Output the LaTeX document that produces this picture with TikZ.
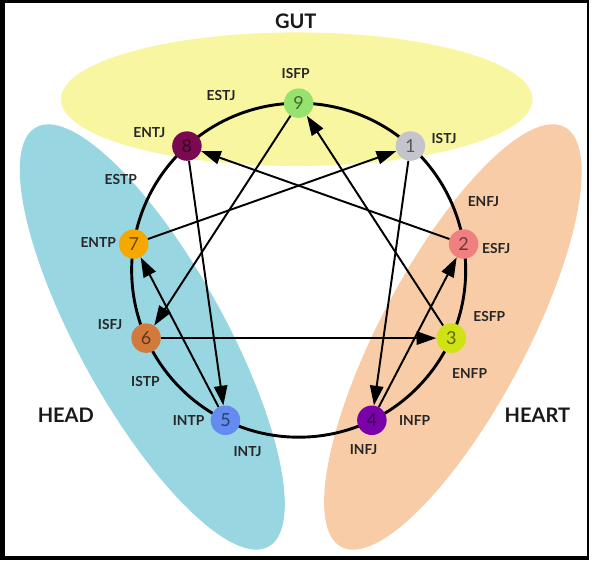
\documentclass[tikz,border=0pt]{standalone}
\usepackage{fontspec}
\setmainfont{Lato}
\usetikzlibrary{arrows.meta,calc}

\definecolor{gutyellow}{RGB}{248,246,160}
\definecolor{headblue}{RGB}{152,214,226}
\definecolor{heartpeach}{RGB}{248,204,166}
\definecolor{cnine}{RGB}{150,226,110}
\definecolor{cone}{RGB}{196,196,204}
\definecolor{ctwo}{RGB}{240,128,128}
\definecolor{cthree}{RGB}{206,226,20}
\definecolor{cfour}{RGB}{122,0,170}
\definecolor{cfive}{RGB}{100,140,240}
\definecolor{csix}{RGB}{210,122,60}
\definecolor{cseven}{RGB}{246,168,0}
\definecolor{ceight}{RGB}{122,10,80}

\tikzset{
  pt/.style={circle, fill=#1, text=#1!45!black, minimum size=0.75cm, inner sep=0pt,
    font=\fontsize{13}{13}\selectfont},
  lbl/.style={font=\fontsize{10}{12}\selectfont\bfseries, text=black!85},
  ctr/.style={font=\fontsize{14.5}{16}\selectfont\bfseries, text=black!90},
  arr/.style={-{Triangle[length=5mm,width=3.4mm]}, line width=1.4pt}
}

\begin{document}
\begin{tikzpicture}[x=0.025cm, y=0.025cm]
                  % frame and the three centres
                  \fill[black] (0,0) rectangle (600,570);
                  \fill[white] (5,4) rectangle (597,567);
                  \fill[gutyellow] (302,469) ellipse [x radius=240, y radius=68];
                  \fill[headblue, rotate around={-61:(155,227)}] (155,227) ellipse [x radius=244, y radius=74];
                  \fill[heartpeach, rotate around={62:(461,227)}] (461,227) ellipse [x radius=242, y radius=74];

                  \coordinate (c) at (304,295);
                  \draw[line width=2.1pt] (c) circle [radius=170];

                  % the nine points
                  \node[pt=cnine] (n9) at ($(c)+(90:170)$) {9};
                  \node[pt=cone] (n1) at ($(c)+(48:170)$) {1};
                  \node[pt=ctwo] (n2) at ($(c)+(9:170)$) {2};
                  \node[pt=cthree] (n3) at ($(c)+(-24:170)$) {3};
                  \node[pt=cfour] (n4) at ($(c)+(-64:170)$) {4};
                  \node[pt=cfive] (n5) at ($(c)+(-116:170)$) {5};
                  \node[pt=csix] (n6) at ($(c)+(-156:170)$) {6};
                  \node[pt=cseven] (n7) at ($(c)+(171:170)$) {7};
                  \node[pt=ceight] (n8) at ($(c)+(132:170)$) {8};

                  % inner lines
                  \draw[arr] (n8) -- (n5);
                  \draw[arr] (n5) -- (n7);
                  \draw[arr] (n7) -- (n1);
                  \draw[arr] (n1) -- (n4);
                  \draw[arr] (n4) -- (n2);
                  \draw[arr] (n2) -- (n8);
                  \draw[arr] (n9) -- (n6);
                  \draw[arr] (n6) -- (n3);
                  \draw[arr] (n3) -- (n9);

                  % types
                  \node[lbl] (isfp) at (301,495) {ISFP};
                  \node[lbl] (estj) at (225,473) {ESTJ};
                  \node[lbl] (entj) at (152,435) {ENTJ};
                  \node[lbl] (istj) at (452,429) {ISTJ};
                  \node[lbl] (estp) at (123,387) {ESTP};
                  \node[lbl] (enfj) at (492,365) {ENFJ};
                  \node[lbl] (entp) at (100,323) {ENTP};
                  \node[lbl] (esfj) at (505,317) {ESFJ};
                  \node[lbl] (isfj) at (112,240) {ISFJ};
                  \node[lbl] (esfp) at (498,248) {ESFP};
                  \node[lbl] (istp) at (148,182) {ISTP};
                  \node[lbl] (enfp) at (478,190) {ENFP};
                  \node[lbl] (intp) at (192,142) {INTP};
                  \node[lbl] (infp) at (422,142) {INFP};
                  \node[lbl] (intj) at (252,110) {INTJ};
                  \node[lbl] (infj) at (370,112) {INFJ};

                  \node[ctr] (gut) at (301,548) {GUT};
                  \node[ctr] (head) at (67,147) {HEAD};
                  \node[ctr] (heart) at (547,147) {HEART};
              \end{tikzpicture}
\end{document}
